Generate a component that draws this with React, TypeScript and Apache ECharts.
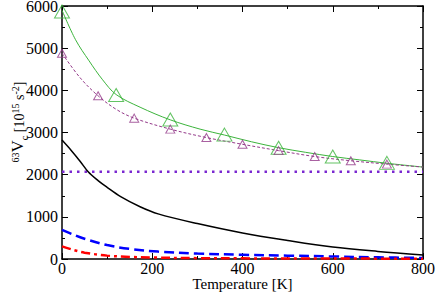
import React, { useEffect, useRef } from "react";
import * as echarts from "echarts";

// Green solid curve (T [K], value)
const greenT = [0, 30, 60, 90, 120, 173, 240, 306, 360, 420, 480, 540, 600, 660, 720, 800];
const greenV = [5900, 5200, 4700, 4250, 3900, 3600, 3300, 3080, 2940, 2780, 2640, 2530, 2430, 2350, 2270, 2180];
// Green triangle markers
const greenMarkT = [0, 120, 240, 360, 480, 600, 720];
const greenMarkV = [5870, 3890, 3310, 2950, 2640, 2430, 2280];
// Purple dashed curve
const purpleT = [0, 40, 80, 120, 160, 240, 320, 400, 480, 560, 640, 720, 800];
const purpleV = [4880, 4300, 3870, 3550, 3340, 3080, 2880, 2720, 2570, 2430, 2330, 2250, 2180];
// Purple triangle markers
const purpleMarkT = [0, 80, 160, 240, 320, 400, 480, 560, 640, 720];
const purpleMarkV = [4880, 3870, 3340, 3080, 2880, 2720, 2570, 2430, 2330, 2250];
// Dotted horizontal level
const dottedT = [0, 800];
const dottedV = [2070, 2070];
// Black solid
const blackT = [0, 20, 40, 58, 80, 100, 130, 173, 213, 300, 400, 500, 600, 700, 800];
const blackV = [2820, 2580, 2320, 2070, 1860, 1700, 1480, 1240, 1070, 840, 617, 440, 285, 180, 95];
// Blue dashed
const blueT = [0, 25, 50, 100, 150, 213, 300, 400, 500, 600, 700, 800];
const blueV = [690, 580, 480, 330, 240, 175, 130, 100, 80, 60, 40, 25];
// Red dash-dot
const redT = [0, 25, 50, 100, 150, 200, 300, 400, 600, 800];
const redV = [300, 215, 150, 80, 50, 35, 20, 15, 10, 8];

const xTicks = { min: 0, max: 800, interval: 200 };
const yTicks = { min: 0, max: 6000, interval: 1000 };

// Y-axis title pieces: text, font size, offset (negative = superscript)
const yTitleParts: [string, number, number][] = [
  ["63", 10, -6],
  ["V", 17, 0],
  ["c", 10, 3],
  [" [10", 14, 0],
  ["15", 10, -6],
  [" s", 14, 0],
  ["-2", 10, -6],
  ["]", 14, 0],
];

// Times-like advance widths (em units)
const charW: Record<string, number> = {
  "0": 0.5, "1": 0.5, "2": 0.5, "3": 0.5, "5": 0.5, "6": 0.5,
  V: 0.722, c: 0.444, " ": 0.25, "[": 0.333, "]": 0.333, s: 0.389, "-": 0.333,
};

const zip = (a: number[], b: number[]) => a.map((t, i) => [t, b[i]]);

const FONT = "Liberation Serif";

export default function App() {
  const ref = useRef<HTMLDivElement>(null);
  useEffect(() => {
    if (!ref.current) return;
    const chart = echarts.init(ref.current, undefined, { renderer: "svg" });
    const axisCommon = {
      axisLine: { show: true, onZero: false, lineStyle: { color: "#000", width: 1.5 } },
      axisTick: { show: true, inside: true, length: 6, lineStyle: { color: "#000", width: 1 } },
      minorTick: { show: true, splitNumber: 2, length: 3, lineStyle: { color: "#000", width: 1 } },
      splitLine: { show: false },
    };
    const smooth = 0.35;

    const widths = yTitleParts.map(([t, s]) =>
      t.split("").reduce((a, ch) => a + (charW[ch] ?? 0.5) * s, 0)
    );
    const total = widths.reduce((a, b) => a + b, 0);
    let cursor = -total / 2;
    const titleChildren = yTitleParts.map(([t, s, dy], i) => {
      const el = {
        type: "text",
        x: cursor,
        y: dy,
        style: {
          text: t,
          fontFamily: FONT,
          fontSize: s,
          fill: "#000",
          align: "left",
          verticalAlign: "bottom",
        },
      };
      cursor += widths[i];
      return el;
    });

    chart.setOption({
      animation: false,
      backgroundColor: "#fff",
      textStyle: { fontFamily: FONT },
      grid: { left: 62, top: 6, right: 13, bottom: 33, containLabel: false, outerBoundsMode: "none" },
      xAxis: [
        {
          type: "value",
          ...xTicks,
          ...axisCommon,
          position: "bottom",
          axisLabel: { color: "#000", fontFamily: FONT, fontSize: 16, lineHeight: 13, margin: 3, formatter: (v: number) => String(v) },
          name: "Temperature [K]",
          nameLocation: "middle",
          nameGap: 17,
          nameMoveOverlap: false,
          nameTextStyle: { color: "#000", fontFamily: FONT, fontSize: 15, lineHeight: 15, verticalAlign: "top" },
        },
        {
          type: "value",
          ...xTicks,
          ...axisCommon,
          position: "top",
          axisLabel: { show: false },
        },
      ],
      yAxis: [
        {
          type: "value",
          ...yTicks,
          ...axisCommon,
          position: "left",
          axisLabel: { color: "#000", fontFamily: FONT, fontSize: 16, lineHeight: 12, margin: 4, formatter: (v: number) => String(v) },
        },
        {
          type: "value",
          ...yTicks,
          ...axisCommon,
          position: "right",
          axisLabel: { show: false },
        },
      ],
      graphic: [
        {
          type: "group",
          x: 26,
          y: 122,
          rotation: Math.PI / 2,
          children: titleChildren,
        },
      ],
      series: [
        {
          type: "line",
          data: zip(greenT, greenV),
          smooth,
          showSymbol: false,
          lineStyle: { color: "#3cb43c", width: 1 },
          z: 3,
        },
        {
          type: "scatter",
          data: zip(greenMarkT, greenMarkV),
          symbol: "triangle",
          symbolSize: [15, 13],
          itemStyle: { color: "transparent", borderColor: "#3cb43c", borderWidth: 1 },
          z: 4,
        },
        {
          type: "line",
          data: zip(purpleT, purpleV),
          smooth,
          showSymbol: false,
          lineStyle: { color: "#943a8a", width: 1, type: [3, 2] },
          z: 3,
        },
        {
          type: "scatter",
          data: zip(purpleMarkT, purpleMarkV),
          symbol: "triangle",
          symbolSize: [9, 8],
          itemStyle: { color: "transparent", borderColor: "#943a8a", borderWidth: 1 },
          z: 4,
        },
        {
          type: "line",
          data: zip(dottedT, dottedV),
          showSymbol: false,
          lineStyle: { color: "#7a28d0", width: 2.5, type: [2.5, 5] },
          z: 2,
        },
        {
          type: "line",
          data: zip(blackT, blackV),
          smooth,
          showSymbol: false,
          lineStyle: { color: "#000", width: 1.5 },
          z: 3,
        },
        {
          type: "line",
          data: zip(blueT, blueV),
          smooth,
          showSymbol: false,
          lineStyle: { color: "#0000ff", width: 2.5, type: [10, 5] },
          z: 3,
        },
        {
          type: "line",
          data: zip(redT, redV),
          smooth,
          showSymbol: false,
          lineStyle: { color: "#ff0000", width: 2.5, type: [9, 4, 3, 4] },
          z: 3,
        },
      ],
    });
    return () => chart.dispose();
  }, []);
  return (
    <div
      ref={ref}
      style={{ position: "fixed", left: 0, top: 0, width: 436, height: 292 }}
    />
  );
}
